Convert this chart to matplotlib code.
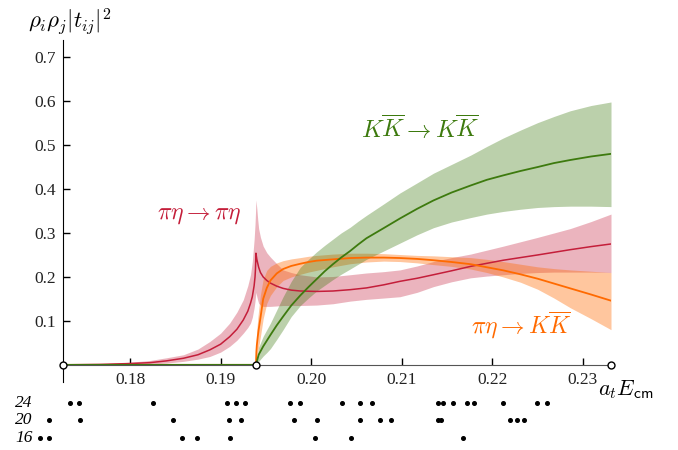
import numpy as np
import matplotlib.pyplot as plt
from matplotlib.transforms import blended_transform_factory

plt.rcParams['mathtext.fontset'] = 'cm'

# --- curve data (a_t E_cm, rho_i rho_j |t_ij|^2) ---
red_e = [0.1726, 0.1767, 0.1800, 0.1822, 0.1840, 0.1859, 0.1875, 0.1888, 0.1900, 0.1910,
         0.1918, 0.1925, 0.1930, 0.1933, 0.1935, 0.1937, 0.1938, 0.19385, 0.1939,
         0.1940, 0.1941, 0.1942, 0.1944, 0.1947, 0.1951, 0.1955, 0.1962, 0.1969, 0.1978,
         0.1988, 0.2006, 0.2024, 0.2043, 0.2061, 0.2080, 0.2098, 0.2117, 0.2135, 0.2155,
         0.2176, 0.2194, 0.2212, 0.2231, 0.2250, 0.2268, 0.2286, 0.2309, 0.2331]
red_mid = [0.000, 0.001, 0.003, 0.005, 0.009, 0.015, 0.023, 0.034, 0.047, 0.064,
           0.081, 0.102, 0.122, 0.140, 0.155, 0.180, 0.200, 0.218, 0.254,
           0.240, 0.231, 0.222, 0.210, 0.200, 0.192, 0.186, 0.179, 0.174, 0.170,
           0.168, 0.167, 0.168, 0.171, 0.175, 0.182, 0.190, 0.197, 0.205, 0.214,
           0.224, 0.231, 0.238, 0.244, 0.250, 0.256, 0.262, 0.269, 0.275]
red_lo = [0.000, 0.000, 0.001, 0.002, 0.004, 0.008, 0.013, 0.019, 0.029, 0.042,
          0.056, 0.072, 0.085, 0.095, 0.108, 0.130, 0.145, 0.155, 0.165,
          0.155, 0.147, 0.140, 0.136, 0.133, 0.133, 0.133, 0.134, 0.135, 0.135,
          0.135, 0.136, 0.139, 0.145, 0.149, 0.152, 0.155, 0.165, 0.178, 0.189,
          0.198, 0.202, 0.205, 0.208, 0.210, 0.211, 0.211, 0.211, 0.210]
red_hi = [0.000, 0.002, 0.006, 0.010, 0.016, 0.023, 0.036, 0.053, 0.072, 0.095,
          0.120, 0.148, 0.180, 0.205, 0.235, 0.285, 0.320, 0.345, 0.375,
          0.355, 0.330, 0.310, 0.290, 0.270, 0.255, 0.245, 0.230, 0.216, 0.210,
          0.205, 0.200, 0.201, 0.205, 0.209, 0.212, 0.216, 0.225, 0.235, 0.244,
          0.252, 0.261, 0.270, 0.280, 0.290, 0.300, 0.310, 0.326, 0.343]

orange_e = [0.1726, 0.1939, 0.19395, 0.1940, 0.1941, 0.1942, 0.1944, 0.1947, 0.1951, 0.1955,
            0.1962, 0.1969, 0.1978, 0.1988, 0.1997, 0.2006, 0.2024, 0.2043, 0.2061, 0.2080,
            0.2098, 0.2117, 0.2135, 0.2155, 0.2176, 0.2194, 0.2212, 0.2231, 0.2250, 0.2268,
            0.2286, 0.2309, 0.2331]
orange_mid = [0, 0, 0.030, 0.045, 0.064, 0.080, 0.107, 0.150, 0.175, 0.192,
              0.208, 0.218, 0.225, 0.230, 0.234, 0.237, 0.240, 0.243, 0.244, 0.244,
              0.243, 0.241, 0.238, 0.234, 0.229, 0.222, 0.215, 0.206, 0.196, 0.185,
              0.174, 0.160, 0.146]
orange_lo = [0, 0, 0.012, 0.020, 0.030, 0.040, 0.065, 0.105, 0.140, 0.158,
             0.178, 0.192, 0.200, 0.206, 0.211, 0.215, 0.223, 0.230, 0.234, 0.236,
             0.235, 0.232, 0.228, 0.224, 0.218, 0.210, 0.200, 0.188, 0.172, 0.152,
             0.130, 0.105, 0.080]
orange_hi = [0, 0, 0.055, 0.080, 0.105, 0.125, 0.160, 0.195, 0.215, 0.224,
             0.232, 0.237, 0.241, 0.244, 0.247, 0.249, 0.252, 0.254, 0.254, 0.253,
             0.251, 0.249, 0.248, 0.246, 0.244, 0.240, 0.235, 0.229, 0.223, 0.219,
             0.216, 0.213, 0.210]

green_e = [0.1726, 0.1939, 0.1942, 0.1947, 0.1951, 0.1955, 0.1962, 0.1969, 0.1978, 0.1988,
           0.1997, 0.2006, 0.2015, 0.2024, 0.2033, 0.2043, 0.2052, 0.2061, 0.2080, 0.2098,
           0.2117, 0.2135, 0.2155, 0.2176, 0.2194, 0.2212, 0.2231, 0.2250, 0.2268, 0.2286,
           0.2309, 0.2331]
green_mid = [0, 0, 0.023, 0.042, 0.055, 0.068, 0.090, 0.110, 0.135, 0.158,
             0.177, 0.195, 0.213, 0.229, 0.244, 0.259, 0.274, 0.288, 0.311, 0.333,
             0.355, 0.374, 0.392, 0.408, 0.421, 0.431, 0.441, 0.450, 0.459, 0.466,
             0.474, 0.480]
green_lo = [0, 0, 0.008, 0.020, 0.028, 0.037, 0.058, 0.080, 0.110, 0.135,
            0.152, 0.168, 0.181, 0.194, 0.206, 0.218, 0.229, 0.240, 0.259, 0.277,
            0.296, 0.312, 0.325, 0.335, 0.343, 0.349, 0.354, 0.358, 0.360, 0.361,
            0.361, 0.360]
green_hi = [0, 0, 0.040, 0.065, 0.080, 0.095, 0.125, 0.155, 0.190, 0.222,
            0.240, 0.257, 0.272, 0.286, 0.300, 0.313, 0.327, 0.340, 0.366, 0.391,
            0.414, 0.436, 0.456, 0.477, 0.497, 0.516, 0.534, 0.551, 0.565, 0.578,
            0.590, 0.598]

# open circles on the axis: start, K Kbar threshold, end
marks_e = [0.1726, 0.1939, 0.2331]

# finite-volume levels per lattice size
levels = {
    '24': [0.17337, 0.17437, 0.18251, 0.19068, 0.19171, 0.19270, 0.19767, 0.19878, 0.20338,
           0.20540, 0.20670, 0.21405, 0.21460, 0.21571, 0.21719, 0.21792, 0.22123, 0.22492,
           0.22602],
    '20': [0.17109, 0.17448, 0.18472, 0.19097, 0.19223, 0.19815, 0.20069, 0.20540, 0.20761,
           0.20879, 0.21405, 0.21435, 0.22197, 0.22271, 0.22344],
    '16': [0.17006, 0.17105, 0.18574, 0.18743, 0.19104, 0.20047, 0.20441, 0.21675],
}
xticks = [0.18, 0.19, 0.20, 0.21, 0.22, 0.23]
yticks = [0.1, 0.2, 0.3, 0.4, 0.5, 0.6, 0.7]

c_red = '#c41e3a'
c_orange = '#ff6a00'
c_green = '#3d7a0e'

fig = plt.figure(figsize=(6.78, 4.5), dpi=100)
ax = fig.add_axes([63/678, 68/450, 548/678, 342/450])

ax.fill_between(red_e, red_lo, red_hi, color=c_red, alpha=0.33, lw=0)
ax.fill_between(orange_e, orange_lo, orange_hi, color=c_orange, alpha=0.38, lw=0)
ax.fill_between(green_e, green_lo, green_hi, color=c_green, alpha=0.35, lw=0)

ax.plot(red_e, red_mid, color=c_red, lw=1.1)
ax.plot(orange_e, orange_mid, color=c_orange, lw=1.3)
ax.plot(green_e, green_mid, color=c_green, lw=1.3)

ax.plot(marks_e, [0]*len(marks_e), 'o', ms=5, mfc='white', mec='black', mew=1, clip_on=False, zorder=5)

ax.set_xlim(0.1726, 0.2331)
ax.set_ylim(-0.039, 0.739)

for s in ['top', 'right']:
    ax.spines[s].set_visible(False)
ax.spines['bottom'].set_position(('data', 0))
ax.spines['bottom'].set_color('#555555')
ax.spines['left'].set_color('black')

ax.set_xticks(xticks)
ax.set_xticklabels(['%.2f' % v for v in xticks])
ax.set_yticks(yticks)
ax.set_yticklabels(['%.1f' % v for v in yticks])
ax.tick_params(direction='in', length=5, width=1, pad=5, labelsize=12.5)
for lab in ax.get_xticklabels() + ax.get_yticklabels():
    lab.set_fontfamily('Liberation Serif')
    lab.set_color('#222222')

# curve labels
ax.text(0.18762, 0.343, r'$\pi\eta \rightarrow \pi\eta$', color=c_red, fontsize=17, ha='center', va='center')
ax.text(0.21203, 0.536, r'$K\overline{K} \rightarrow K\overline{K}$', color=c_green, fontsize=17.5, ha='center', va='center')
ax.text(0.22318, 0.091, r'$\pi\eta \rightarrow K\overline{K}$', color=c_orange, fontsize=17, ha='center', va='center')

fig.text(28/678, 1 - 22/450, r'$\rho_i\rho_j|t_{ij}|^2$', fontsize=16.5, ha='left', va='center')
fig.text(598/678, 1 - 390/450, r'$a_t E_{\mathsf{cm}}$', fontsize=16, ha='left', va='center')

# finite-volume spectra below the axis
trans = blended_transform_factory(ax.transData, ax.transAxes)
row_y = {'24': -0.0605, '20': -0.111, '16': -0.163}
for L, es in levels.items():
    ax.plot(es, [row_y[L]]*len(es), 'o', color='black', ms=2.6, transform=trans, clip_on=False)
    fig.text(15/678, ax.get_position().y0 + row_y[L]*ax.get_position().height, L,
             fontsize=12.5, fontfamily='Liberation Serif', style='italic', ha='left', va='center')

fig.savefig('out.png', dpi=100)
